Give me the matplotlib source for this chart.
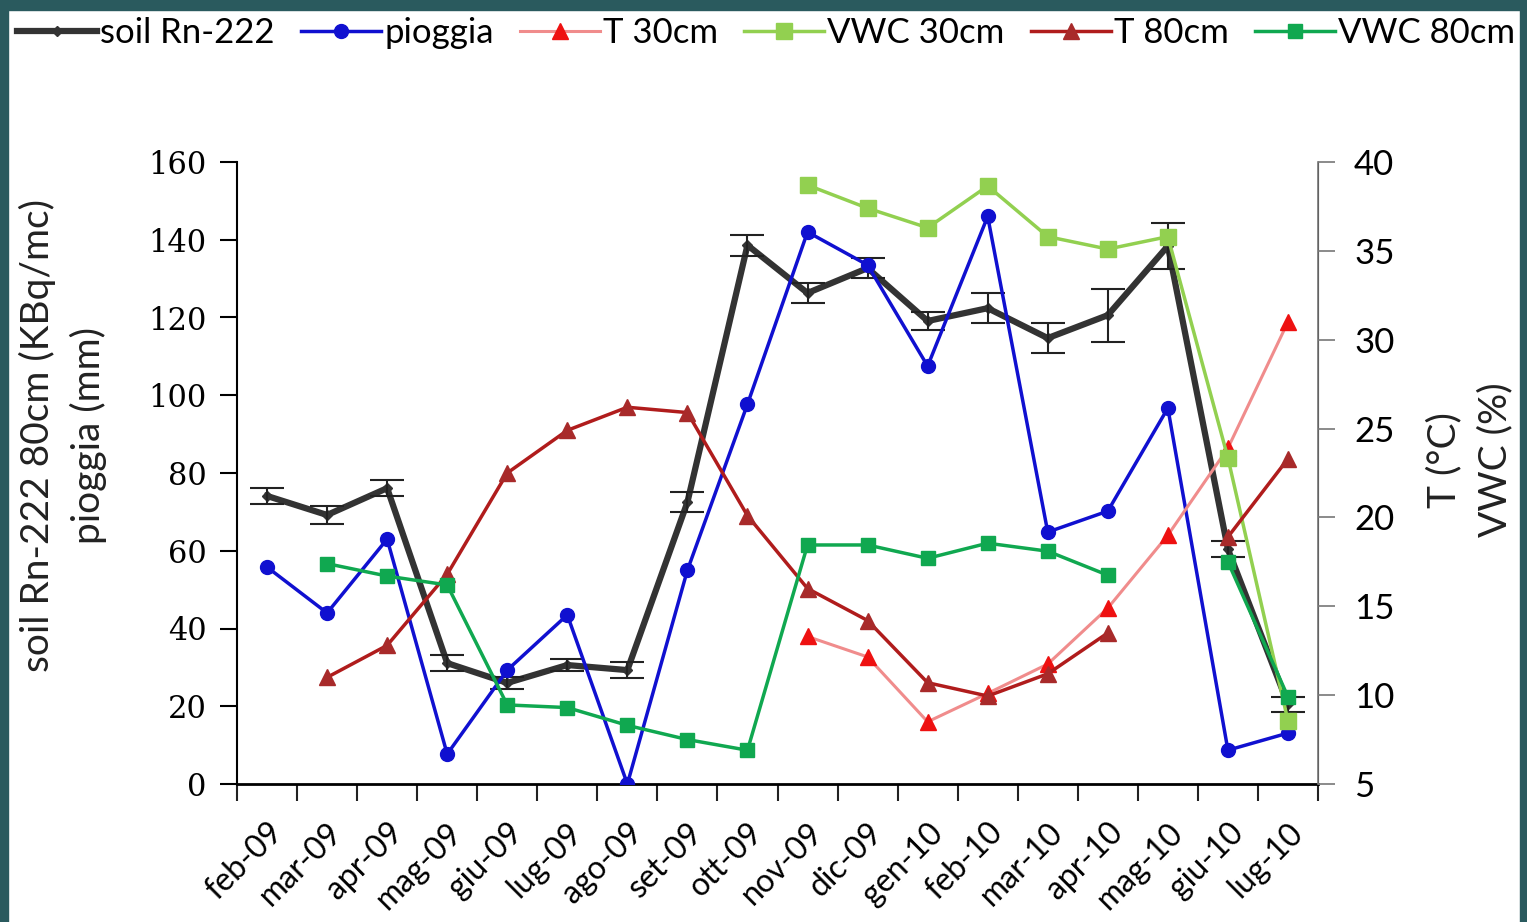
import numpy as np
import matplotlib
matplotlib.use("Agg")
import matplotlib.pyplot as plt
from matplotlib.patches import Rectangle
import matplotlib.transforms as mtransforms

nan = np.nan

mesi = ["feb-09", "mar-09", "apr-09", "mag-09", "giu-09", "lug-09", "ago-09", "set-09", "ott-09",
        "nov-09", "dic-09", "gen-10", "feb-10", "mar-10", "apr-10", "mag-10", "giu-10", "lug-10"]

# asse sinistro
radon = [74.1, 69.2, 76.1, 31.1, 26.0, 30.6, 29.3, 72.5, 138.6,
         126.3, 132.7, 119.1, 122.4, 114.7, 120.6, 138.4, 60.4, 20.5]
radon_err = [2.0, 2.2, 2.0, 2.0, 1.5, 1.5, 2.0, 2.6, 2.7,
             2.6, 2.6, 2.2, 3.9, 3.9, 6.8, 6.0, 2.0, 2.0]
pioggia = [55.8, 44.0, 63.0, 7.7, 29.3, 43.5, 0.0, 55.0, 97.7,
           142.0, 133.5, 107.5, 146.0, 64.8, 70.2, 96.7, 8.7, 13.1]

# asse destro
t30 = [nan, nan, nan, nan, nan, nan, nan, nan, nan,
       13.3, 12.15, 8.5, 10.1, 11.75, 14.9, 19.0, 23.9, 31.0]
vwc30 = [nan, nan, nan, nan, nan, nan, nan, nan, nan,
         38.7, 37.4, 36.3, 38.65, 35.8, 35.1, 35.8, 23.35, 8.55]
t80 = [nan, 11.0, 12.8, 16.8, 22.5, 24.9, 26.2, 25.9, 20.1,
       16.0, 14.2, 10.7, 9.95, 11.2, 13.5, nan, 18.9, 23.3]
vwc80 = [nan, 17.4, 16.7, 16.2, 9.45, 9.3, 8.3, 7.5, 6.9,
         18.45, 18.45, 17.7, 18.55, 18.1, 16.75, nan, 17.5, 9.9]

x = np.arange(len(mesi)) + 0.5

fig = plt.figure(figsize=(15.27, 9.22), dpi=100)
fig.patch.set_facecolor("white")
ax = fig.add_axes([237/1527, 1-784/922, (1318-237)/1527, (784-162)/922])
ax2 = ax.twinx()

# cornice scura della slide
bordo = "#2a5a5e"
fig.patches.append(Rectangle((0, 1-10/922), 1, 10/922, transform=fig.transFigure, color=bordo, zorder=0))
fig.patches.append(Rectangle((0, 0), 8/1527, 1, transform=fig.transFigure, color=bordo, zorder=0))
fig.patches.append(Rectangle((1-7/1527, 0), 7/1527, 1, transform=fig.transFigure, color=bordo, zorder=0))

l_rn, = ax.plot(x, radon, color="#333333", lw=4.5, marker="D", ms=5, label="soil Rn-222", zorder=3)
ax.errorbar(x, radon, yerr=radon_err, fmt="none", ecolor="#222222", elinewidth=1.5, capsize=12, capthick=1.5, zorder=3)
l_pg, = ax.plot(x, pioggia, color="#1010d0", lw=2.5, marker="o", ms=10, label="pioggia", zorder=4)

l_t30, = ax2.plot(x, t30, color="#f08c8c", lw=2.2, marker="^", ms=12, mfc="#ee1111", mec="#ee1111", label="T 30cm")
l_v30, = ax2.plot(x, vwc30, color="#92d050", lw=2.5, marker="s", ms=12, label="VWC 30cm")
l_t80, = ax2.plot(x, t80, color="#b01c1c", lw=2.5, marker="^", ms=12, mfc="#a82a2a", mec="#a82a2a", label="T 80cm")
l_v80, = ax2.plot(x, vwc80, color="#10a850", lw=2.5, marker="s", ms=10, label="VWC 80cm")

ax.set_xlim(0, len(mesi))
ax.set_ylim(0, 160)
ax2.set_ylim(5, 40)
ax.set_yticks(range(0, 161, 20))
ax2.set_yticks(range(5, 41, 5))

ax.set_xticks(x)
ax.set_xticklabels(mesi, rotation=45, ha="right", va="top", rotation_mode="anchor",
                   fontsize=23, family="Lato")
offset = mtransforms.ScaledTranslation(0.10, 0, fig.dpi_scale_trans)
for lab in ax.get_xticklabels():
    lab.set_transform(lab.get_transform() + offset)
ax.set_xticks(np.arange(len(mesi) + 1), minor=True)
ax.tick_params(axis="x", which="major", length=0, pad=24)
ax.tick_params(axis="x", which="minor", length=12, width=1.5, direction="out", color="#222222")
ax.tick_params(axis="y", length=12, width=1.5, direction="out", labelsize=22, pad=10)
for lab in ax.get_yticklabels():
    lab.set_family("DejaVu Serif")
ax2.tick_params(axis="y", length=12, width=1.2, direction="out", labelsize=25, pad=14, color="#777777")
for lab in ax2.get_yticklabels():
    lab.set_family("Lato")

ax.spines["top"].set_visible(False)
ax2.spines["top"].set_visible(False)
ax.spines["left"].set_linewidth(1.5)
ax.spines["bottom"].set_linewidth(2)
ax2.spines["right"].set_color("#777777")
ax2.spines["right"].set_linewidth(1.2)
ax2.spines["left"].set_visible(False)
ax2.spines["bottom"].set_visible(False)

fig.text(63/1527, 1-435/922, "soil Rn-222 80cm (KBq/mc)\npioggia (mm)", rotation=90,
         ha="center", va="center", multialignment="center", fontsize=28, family="Lato",
         linespacing=1.45, color="#222222")
fig.text(1470/1527, 1-460/922, "T (°C)\nVWC (%)", rotation=90,
         ha="center", va="center", multialignment="center", fontsize=28, family="Lato",
         linespacing=1.5, color="#222222")

fig.legend(handles=[l_rn, l_pg, l_t30, l_v30, l_t80, l_v80], loc="upper left",
           bbox_to_anchor=(3/1527, 1-3/922), ncol=6, frameon=False,
           handlelength=2.3, handletextpad=0.1, columnspacing=0.75, borderaxespad=0,
           prop={"family": "Lato", "size": 25})

fig.savefig("out.png", dpi=100)
